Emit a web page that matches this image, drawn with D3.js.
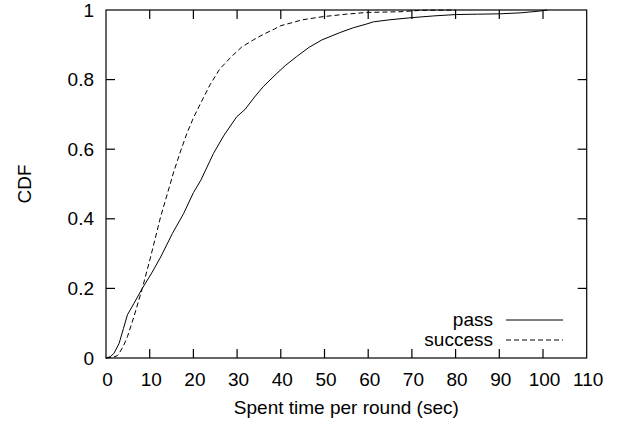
<!DOCTYPE html>
<html>
<head>
<meta charset="utf-8">
<script src="https://cdn.jsdelivr.net/npm/d3@7"></script>
<style>
  html, body { margin: 0; padding: 0; background: #fff; }
  svg { display: block; }
  text { font-family: "Liberation Sans", Arial, Helvetica, sans-serif; fill: #000; }
</style>
</head>
<body>
<svg id="chart" width="625" height="424"></svg>
<script>
// ---- data ----
const passX   = [0, 1, 1.8, 3, 4, 4.9, 6.4, 8.3, 10.5, 12.5, 15.2, 17.8, 20, 21.7, 24.6, 27, 29.9, 31.8, 34, 36, 39.1, 41, 43.6, 46.5, 49.4, 53.5, 56.6, 59.7, 61.2, 65, 70, 75, 80.2, 85, 90.2, 95, 99.3, 101];
const passCdf = [0, 0.004, 0.013, 0.042, 0.085, 0.124, 0.157, 0.2, 0.245, 0.29, 0.358, 0.416, 0.475, 0.511, 0.588, 0.64, 0.693, 0.714, 0.75, 0.78, 0.818, 0.84, 0.866, 0.893, 0.914, 0.935, 0.949, 0.96, 0.966, 0.972, 0.978, 0.983, 0.987, 0.988, 0.989, 0.992, 0.997, 1.0];

const successX   = [0, 1.5, 2.5, 3, 4, 4.9, 6.4, 8.3, 10.2, 12.5, 14, 15.5, 17, 18.5, 20, 21.5, 23.8, 26, 28.7, 31, 33.7, 36, 38.5, 40, 42.1, 45, 49.7, 55, 59.7, 67.3, 72, 80];
const successCdf = [0, 0.002, 0.006, 0.013, 0.035, 0.061, 0.119, 0.2, 0.29, 0.406, 0.47, 0.535, 0.592, 0.645, 0.69, 0.728, 0.785, 0.83, 0.866, 0.893, 0.914, 0.93, 0.945, 0.955, 0.962, 0.972, 0.981, 0.988, 0.993, 0.995, 0.999, 1.0];

const xTicks = [0, 10, 20, 30, 40, 50, 60, 70, 80, 90, 100, 110];
const yTicks = [0, 0.2, 0.4, 0.6, 0.8, 1];
const seriesNames = ["pass", "success"];

// ---- layout ----
const pL = 106, pR = 586.7, pT = 10, pB = 358;
const svg = d3.select("#chart");
const x = d3.scaleLinear().domain([0, 110]).range([pL, pR]);
const y = d3.scaleLinear().domain([0, 1]).range([pB, pT]);
const tickLen = 9;
const fontSize = 19;

// frame
svg.append("rect")
  .attr("x", pL).attr("y", pT)
  .attr("width", pR - pL).attr("height", pB - pT)
  .attr("fill", "none").attr("stroke", "#000").attr("stroke-width", 1.2);

// x ticks (bottom + top, inward)
const gx = svg.append("g");
xTicks.forEach(t => {
  const px = x(t);
  if (t !== 0 && t !== 110) {
    gx.append("line").attr("x1", px).attr("x2", px).attr("y1", pB).attr("y2", pB - tickLen)
      .attr("stroke", "#000").attr("stroke-width", 1.2);
    gx.append("line").attr("x1", px).attr("x2", px).attr("y1", pT).attr("y2", pT + tickLen)
      .attr("stroke", "#000").attr("stroke-width", 1.2);
  }
  gx.append("text").attr("x", px + 1.5).attr("y", 386)
    .attr("text-anchor", "middle").attr("font-size", fontSize).text(d3.format("d")(t));
});

// y ticks (left + right, inward)
const gy = svg.append("g");
yTicks.forEach(t => {
  const py = y(t);
  if (t !== 0 && t !== 1) {
    gy.append("line").attr("x1", pL).attr("x2", pL + tickLen).attr("y1", py).attr("y2", py)
      .attr("stroke", "#000").attr("stroke-width", 1.2);
    gy.append("line").attr("x1", pR).attr("x2", pR - tickLen).attr("y1", py).attr("y2", py)
      .attr("stroke", "#000").attr("stroke-width", 1.2);
  }
  gy.append("text").attr("x", 94).attr("y", py).attr("dy", "0.35em")
    .attr("text-anchor", "end").attr("font-size", fontSize).text(t === 0 || t === 1 ? String(t) : t.toFixed(1));
});

// axis titles
svg.append("text").attr("x", (pL + pR) / 2).attr("y", 413.5)
  .attr("text-anchor", "middle").attr("font-size", fontSize).text("Spent time per round (sec)");
svg.append("text").attr("transform", "translate(31,184) rotate(-90)")
  .attr("text-anchor", "middle").attr("font-size", fontSize).text("CDF");

// lines
const line = d3.line().x(d => x(d[0])).y(d => y(d[1]));
const passData = passX.map((v, i) => [v, passCdf[i]]);
const successData = successX.map((v, i) => [v, successCdf[i]]);

svg.append("path").datum(passData).attr("d", line)
  .attr("fill", "none").attr("stroke", "#000").attr("stroke-width", 1);
svg.append("path").datum(successData).attr("d", line)
  .attr("fill", "none").attr("stroke", "#000").attr("stroke-width", 1)
  .attr("stroke-dasharray", "5,3");

// legend
const legendRows = [
  { name: seriesNames[0], dash: null, y: 320 },
  { name: seriesNames[1], dash: "5,3", y: 340 }
];
legendRows.forEach(r => {
  svg.append("text").attr("x", 493).attr("y", r.y + 5.5)
    .attr("text-anchor", "end").attr("font-size", fontSize).text(r.name);
  const l = svg.append("line").attr("x1", 506).attr("x2", 563).attr("y1", r.y).attr("y2", r.y)
    .attr("stroke", "#000").attr("stroke-width", 1);
  if (r.dash) l.attr("stroke-dasharray", r.dash);
});
</script>
</body>
</html>
